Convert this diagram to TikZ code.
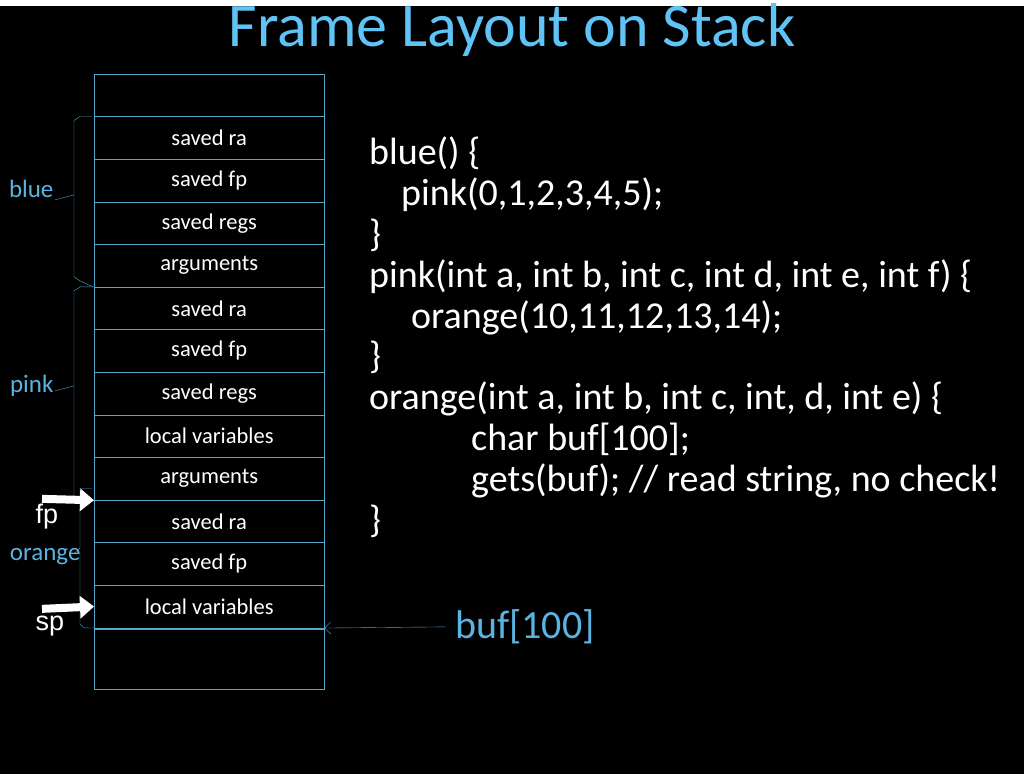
\documentclass[tikz,border=0pt]{standalone}
\usepackage{fontspec}
\setmainfont{Carlito}
\setsansfont{Liberation Sans}
\usetikzlibrary{arrows.meta,positioning}
\definecolor{ttl}{RGB}{95,195,245}
\definecolor{frm}{RGB}{85,165,205}
\definecolor{lbl}{RGB}{90,180,225}
\begin{document}
\begin{tikzpicture}[x=1pt,y=-1pt]
  \tikzset{cell/.style={draw=frm, minimum width=230pt, minimum height=42.6pt, font=\fontsize{22.5}{24}\selectfont, text=white, inner sep=0pt, anchor=north west}}
  \tikzset{brace/.style={draw=frm, thin}}
  \tikzset{fat/.style={white, line width=8pt, -{Triangle[length=14pt,width=22pt]}}}
  \fill[black] (0,0) rectangle (1024,768);
  \node[text=ttl, font=\fontsize{62}{66}\selectfont] (title) at (512,24) {Frame Layout on Stack};
  % stack cells
  \node[cell] (top) at (94,68) {};
  \foreach \t [count=\i] in {saved ra, saved fp, saved regs, arguments, saved ra, saved fp, saved regs, local variables, arguments, saved ra, saved fp, local variables}
    \node[cell] (c\i) at (94,68+42.6*\i) {\t};
  \node[cell, minimum height=60pt] (bot) at (94,623) {};
  % braces
  \draw[brace] (c1.north west) ++(-2,0) coordinate (b1) -- ++(-12,0) -- ++(-6,4) -- (74,189) -- (55,194);
  \draw[brace] (74,189) -- (74,271) -- ++(6,4) -- (c4.south west);
  \node[text=lbl, font=\fontsize{25}{27}\selectfont, anchor=east] (lblue) at (57,183) {blue};
  \draw[brace] (c5.north west) ++(-2,0) -- ++(-12,0) -- ++(-6,4) -- (74,380) -- (55,385);
  \draw[brace] (74,380) -- (74,490) -- ++(6,4) -- (c9.south west);
  \node[text=lbl, font=\fontsize{25}{27}\selectfont, anchor=east] (lpink) at (57,380) {pink};
  \draw[brace] (c9.south west) ++(-2,-12) -- ++(-12,0) -- ++(0,60) -- (74,548);
  \draw[brace] (80,546) -- (80,618) -- ++(4,4) -- (c12.south west);
  \node[text=lbl, font=\fontsize{25}{27}\selectfont, anchor=east] (lorange) at (84,551) {orange};
  % pointers
  \coordinate (fpt) at (42,493);
  \coordinate (spt) at (42,603);
  \draw[fat] (fpt) -- (c9.south west);
  \draw[fat] (spt) -- (c12.west);
  \node[text=white, font=\sffamily\fontsize{27}{29}\selectfont] (fp) at (47,511) {fp};
  \node[text=white, font=\sffamily\fontsize{27}{29}\selectfont] (sp) at (50,620) {sp};
  % code
  \node[text=white, font=\fontsize{38}{40.8}\selectfont, anchor=north west, align=left, inner sep=0pt] (code) at (369,131) {%
    blue() \{\\
    \hspace*{32pt}pink(0,1,2,3,4,5);\\
    \}\\
    pink(int a, int b, int c, int d, int e, int f) \{\\
    \hspace*{42pt}orange(10,11,12,13,14);\\
    \}\\
    orange(int a, int b, int c, int, d, int e) \{\\
    \hspace*{102pt}char buf[100];\\
    \hspace*{102pt}gets(buf); // read string, no check!\\
    \}};
  \node[text=lbl, font=\fontsize{40}{44}\selectfont, anchor=west, inner sep=0pt] (buf) at (455,621) {buf[100]};
  \draw[frm, -{Straight Barb[length=6pt]}] (buf.west) ++(-10,0) -- (c12.south east);
\end{tikzpicture}
\end{document}
